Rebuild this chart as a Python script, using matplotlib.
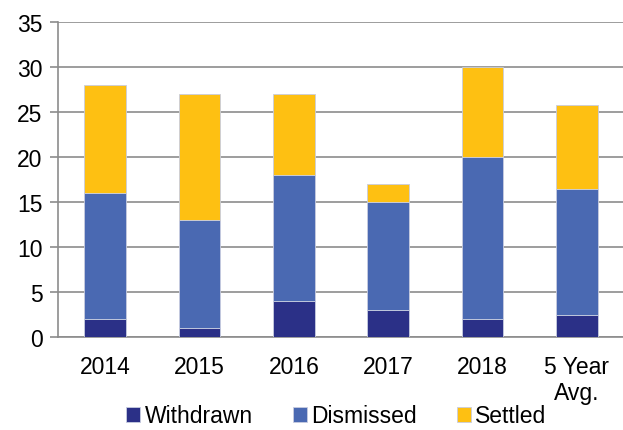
import matplotlib
matplotlib.use("Agg")
import matplotlib.pyplot as plt
import numpy as np

categories = ["2014", "2015", "2016", "2017", "2018", "5 Year\nAvg."]
withdrawn = [2, 1, 4, 3, 2, 2.4]
dismissed = [14, 12, 14, 12, 18, 14.0]
settled = [12, 14, 9, 2, 10, 9.4]

plt.rcParams['font.family'] = ['Liberation Sans', 'DejaVu Sans']

fig = plt.figure(figsize=(6.23, 4.31), dpi=100)
ax = fig.add_axes([58 / 623, 1 - 338 / 431, 566 / 623, 315 / 431])

x = np.arange(len(categories))
w = 0.44
edge = dict(edgecolor="#c8cde0", linewidth=0.6)
b1 = ax.bar(x, withdrawn, w, color="#2b3087", label="Withdrawn", zorder=3, **edge)
b2 = ax.bar(x, dismissed, w, bottom=withdrawn, color="#4a69b2", label="Dismissed", zorder=3, **edge)
bottom2 = np.array(withdrawn) + np.array(dismissed)
b3 = ax.bar(x, settled, w, bottom=bottom2, color="#fec012", label="Settled", zorder=3, **edge)

ax.set_xlim(-0.5, len(categories) - 0.5)
ax.set_ylim(0, 35)
ax.set_yticks(range(0, 36, 5))
ax.yaxis.grid(True, color="#8c8c8c", linewidth=1.2, zorder=0)
ax.set_xticks(x)
ax.set_xticklabels(categories)

for s in ["top", "right"]:
    ax.spines[s].set_visible(False)
ax.spines["left"].set_color("#8c8c8c")
ax.spines["bottom"].set_color("#8c8c8c")
ax.spines["left"].set_linewidth(1.2)
ax.spines["bottom"].set_linewidth(1.2)
ax.tick_params(axis="y", length=6, width=1.2, color="#8c8c8c", labelsize=16.5, pad=5)
ax.tick_params(axis="x", length=0, labelsize=16.5, pad=13)
for lbl in ax.get_xticklabels():
    lbl.set_linespacing(1.15)

fig.legend(handles=[b1, b2, b3], loc="lower center", bbox_to_anchor=(0.54, -0.042),
           ncol=3, frameon=False, fontsize=16.5, handlelength=0.6, handleheight=0.6,
           handletextpad=0.2, columnspacing=1.75)

fig.savefig("out.png", dpi=100)
